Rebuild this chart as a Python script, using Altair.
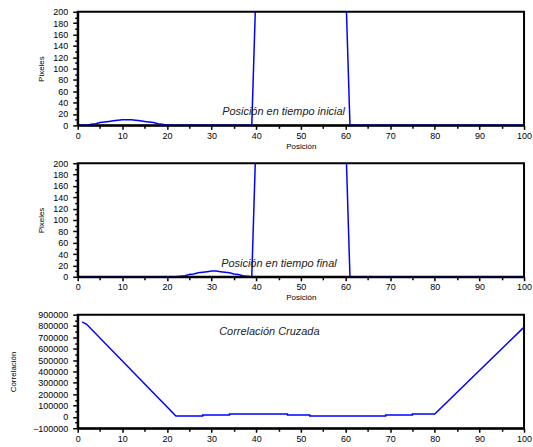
import altair as alt
import pandas as pd

# ---- data ----
pos = list(range(0, 101))

# Panel 1: initial time
ini_bump_x = [2, 3, 4, 5, 6, 7, 8, 9, 10, 11, 12, 13, 14, 15, 16, 17, 18, 19, 20]
ini_bump_y = [0, 2, 3, 5, 6, 7, 8, 9, 10, 10, 10, 9, 8, 7, 6, 5, 3, 2, 0]
# Panel 2: final time
fin_bump_x = [22, 23, 24, 25, 26, 27, 28, 29, 30, 31, 32, 33, 34, 35, 36, 37, 38, 39]
fin_bump_y = [0, 1, 2, 4, 5, 7, 8, 9, 10, 10, 9, 8, 7, 5, 4, 2, 1, 0]
pulse_start, pulse_end, pulse_level = 40, 60, 255

# Panel 3: cross-correlation (breakpoints)
corr_x = [1, 2, 22, 28, 28, 34, 34, 47, 47, 52, 52, 69, 69, 75, 75, 80, 100]
corr_y = [836000, 815000, 8000, 8000, 17000, 17000, 26000, 26000, 17000, 17000,
          8000, 8000, 17000, 17000, 26000, 26000, 790000]


def signal(bx, by):
    vals = []
    for p in pos:
        if p in bx:
            v = by[bx.index(p)]
        elif pulse_start <= p <= pulse_end:
            v = pulse_level
        else:
            v = 0
        vals.append(v)
    return pd.DataFrame({"x": pos, "y": vals})


df1 = signal(ini_bump_x, ini_bump_y)
df2 = signal(fin_bump_x, fin_bump_y)
df3 = pd.DataFrame({"x": corr_x, "y": corr_y})

FONT = "Liberation Sans"
BLUE = "#0000ff"
W, H = 448, 114

xvals = list(range(0, 101, 5))


def x_axis(title):
    kw = dict(
        values=xvals,
        labelExpr="datum.value % 10 === 0 ? datum.label : ''",
        tickSize={"condition": {"test": "datum.value % 10 === 0", "value": 4}, "value": 3},
        tickColor="black", tickWidth=1.5,
        domainColor="black", domainWidth=2,
        labelFont=FONT, labelFontSize=9, labelColor="black", labelPadding=2,
        labelFlush=False, labelOverlap=False,
        grid=False, zindex=1,
    )
    if title:
        kw.update(title=title, titleFont=FONT, titleFontSize=8, titleFontWeight="normal",
                  titleColor="black", titlePadding=2)
    else:
        kw.update(title=None)
    return alt.Axis(**kw)


def y_axis(title, vals, major, pad):
    return alt.Axis(
        title=title, values=vals,
        labelExpr=f"datum.value % {major} === 0 ? datum.label : ''",
        format="d",
        tickSize={"condition": {"test": f"datum.value % {major} === 0", "value": 5}, "value": 3},
        tickColor="black", tickWidth=1.5,
        domainColor="black", domainWidth=2,
        labelFont=FONT, labelFontSize=9, labelColor="black", labelPadding=5,
        labelFlush=False, labelOverlap=False,
        titleFont=FONT, titleFontSize=8, titleFontWeight="normal", titleColor="black",
        titlePadding=pad, grid=False, zindex=1,
    )


def panel(df, ydom, yvals, major, ytitle, pad, label, lx, ly, xtitle):
    line = alt.Chart(df).mark_line(color=BLUE, strokeWidth=1.5, clip=True).encode(
        x=alt.X("x:Q", scale=alt.Scale(domain=[0, 100], nice=False), axis=x_axis(xtitle)),
        y=alt.Y("y:Q", scale=alt.Scale(domain=ydom, nice=False), axis=y_axis(ytitle, yvals, major, pad)),
    )
    txt = alt.Chart(pd.DataFrame({"t": [label]})).mark_text(
        font=FONT, fontSize=11, fontStyle="italic", align="left", baseline="alphabetic", color="#222222"
    ).encode(x=alt.value(lx), y=alt.value(ly), text="t:N")
    return alt.layer(line, txt).properties(width=W, height=H)


p1 = panel(df1, [0, 200], list(range(0, 201, 10)), 20, "Pixeles", 7,
           "Posición en tiempo inicial", 145, 104, "Posición")
p2 = panel(df2, [0, 200], list(range(0, 201, 10)), 20, "Pixeles", 7,
           "Posición en tiempo final", 144, 104, "Posición")
p3 = panel(df3, [-100000, 900000], list(range(-100000, 900001, 50000)), 100000, "Correlación", 15,
           "Correlación Cruzada", 142, 20, None)

chart = alt.vconcat(p1, p2, p3, spacing=7).properties(
    padding={"left": 8, "top": 6, "right": 0, "bottom": 0},
    background="white",
).configure_view(stroke="black", strokeWidth=2)

chart.save("out.html", embed_options={"renderer": "svg", "actions": False})
